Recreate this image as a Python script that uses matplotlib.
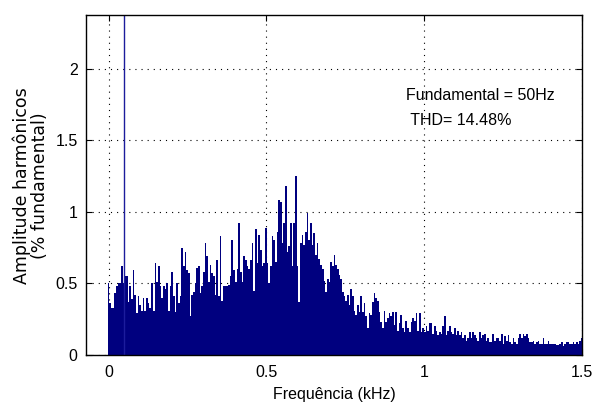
import numpy as np
import matplotlib
matplotlib.use("Agg")
from matplotlib import pyplot as plt

# Spectre harmonique (% du fondamental), pas régulier de 0 à 1.5 kHz
amp_0_300 = [0.50, 0.36, 0.33, 0.33, 0.43, 0.48, 0.50, 0.50, 0.62, 0.50,
             0.55, 0.55, 0.37, 0.48, 0.39, 0.59, 0.42, 0.29, 0.41, 0.35,
             0.31, 0.40, 0.31, 0.40, 0.36, 0.33, 0.50, 0.31, 0.64, 0.51,
             0.62, 0.48, 0.40, 0.48, 0.46, 0.50, 0.31, 0.48, 0.58, 0.41,
             0.30, 0.50, 0.36, 0.41, 0.75, 0.62, 0.72, 0.59, 0.57, 0.27,
             0.42, 0.44, 0.50, 0.61, 0.62, 0.43, 0.48, 0.58]
amp_300_600 = [0.78, 0.69, 0.51, 0.63, 0.57, 0.55, 0.42, 0.66, 0.41, 0.83,
               0.38, 0.48, 0.48, 0.48, 0.49, 0.55, 0.80, 0.59, 0.51, 0.60,
               0.92, 0.58, 0.51, 0.69, 0.66, 0.62, 0.60, 0.66, 0.78, 0.45,
               0.88, 0.64, 0.84, 0.73, 0.62, 0.64, 0.89, 0.64, 0.50, 0.62,
               0.83, 0.80, 0.65, 0.86, 1.08, 1.07, 0.78, 0.92, 1.18, 0.72,
               0.76, 0.92, 0.62, 0.92, 1.25, 0.62, 0.37]
amp_600_900 = [0.78, 0.84, 0.77, 0.86, 0.99, 0.80, 0.92, 0.77, 0.85, 0.70,
               0.78, 0.67, 0.63, 0.60, 0.52, 0.44, 0.53, 0.51, 0.65, 0.62,
               0.70, 0.63, 0.60, 0.56, 0.53, 0.44, 0.41, 0.38, 0.42, 0.35,
               0.46, 0.41, 0.31, 0.28, 0.35, 0.30, 0.41, 0.30, 0.36, 0.27,
               0.19, 0.29, 0.28, 0.37, 0.43, 0.40, 0.38, 0.30, 0.23, 0.19,
               0.31, 0.23, 0.26, 0.29, 0.27, 0.30, 0.21]
amp_900_1200 = [0.30, 0.17, 0.22, 0.28, 0.19, 0.16, 0.24, 0.19, 0.16, 0.23,
                0.26, 0.24, 0.29, 0.17, 0.29, 0.16, 0.19, 0.16, 0.20, 0.17,
                0.22, 0.22, 0.15, 0.20, 0.17, 0.14, 0.16, 0.15, 0.20, 0.27,
                0.14, 0.17, 0.20, 0.16, 0.15, 0.19, 0.14, 0.17, 0.14, 0.16,
                0.12, 0.14, 0.10, 0.12, 0.16, 0.12, 0.16, 0.14, 0.12, 0.10,
                0.16, 0.12, 0.14, 0.15, 0.10, 0.12, 0.09]
amp_1200_1500 = [0.09, 0.15, 0.10, 0.12, 0.12, 0.10, 0.15, 0.08, 0.13, 0.10,
                 0.14, 0.09, 0.08, 0.12, 0.09, 0.08, 0.12, 0.15, 0.12, 0.15,
                 0.13, 0.15, 0.12, 0.09, 0.09, 0.10, 0.08, 0.09, 0.10, 0.08,
                 0.08, 0.12, 0.08, 0.08, 0.10, 0.08, 0.08, 0.08, 0.08, 0.07,
                 0.07, 0.08, 0.09, 0.06, 0.08, 0.09, 0.09, 0.08, 0.08, 0.09,
                 0.08, 0.09, 0.08, 0.10, 0.12]

fund_khz = 0.05
fund_amp = 100.0
f_max_khz = 1.5

amp = np.array(amp_0_300 + amp_300_600 + amp_600_900 + amp_900_1200 + amp_1200_1500)
freq = np.linspace(0, f_max_khz, len(amp))
df = freq[1] - freq[0]

font = ['Liberation Sans', 'DejaVu Sans']

fig = plt.figure(figsize=(5.93, 4.11), dpi=100)
fig.patch.set_facecolor('white')
ax = fig.add_axes([86 / 593, 1 - 355 / 411, 496 / 593, 339.5 / 411])

ax.bar(freq, amp, width=df, color='#00007f', linewidth=0)
ax.vlines(fund_khz, 0, fund_amp, color='#1c1c9c', linewidth=1.0)

ax.set_xlim(-0.0713, 1.5)
ax.set_ylim(0, 2.37)
ax.set_xticks([0, 0.5, 1, 1.5])
ax.set_xticklabels(['0', '0.5', '1', '1.5'])
ax.set_yticks([0, 0.5, 1, 1.5, 2])
ax.set_yticklabels(['0', '0.5', '1', '1.5', '2'])

ax.set_axisbelow(True)
ax.grid(True, color='black', linestyle=(0, (1, 4.5)), linewidth=0.8)

ax.tick_params(direction='in', length=4, width=0.8, top=True, right=True,
               labelsize=11.5, colors='black')
ax.tick_params(axis='x', pad=7)
ax.tick_params(axis='y', pad=6)
for lab in ax.get_xticklabels() + ax.get_yticklabels():
    lab.set_family(font)

for s in ax.spines.values():
    s.set_linewidth(1.0)
    s.set_color('black')

ax.set_xlabel('Frequência (kHz)', fontsize=11.5, family=font)
ax.xaxis.set_label_coords(0.5, -0.093)
ax.set_ylabel('Amplitude harmônicos\n(% fundamental)', fontsize=12.5,
              family='DejaVu Sans', linespacing=1.0)
ax.yaxis.set_label_coords(-0.074, 0.5)

ax.text(0.943, 1.81, 'Fundamental = 50Hz', fontsize=11.5, family=font,
        va='center', ha='left')
ax.text(0.943, 1.64, ' THD= 14.48%', fontsize=11.5, family=font,
        va='center', ha='left')

fig.savefig('out.png', dpi=100)
